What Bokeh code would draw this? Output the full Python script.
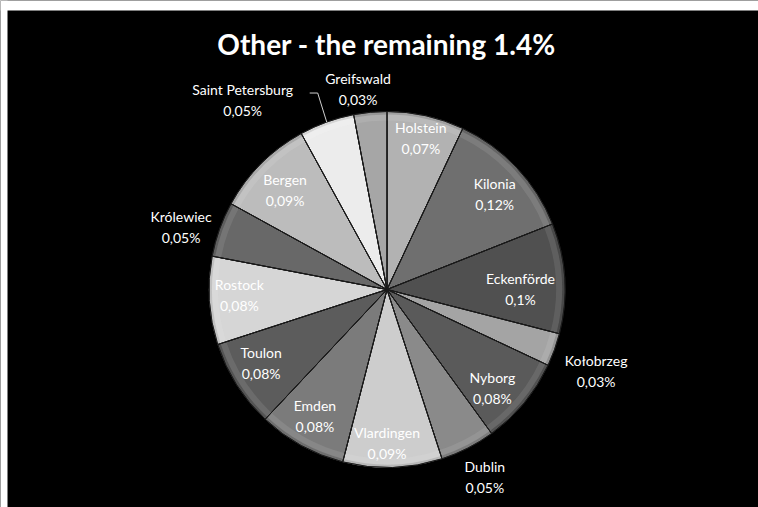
import numpy as np
from bokeh.plotting import figure
from bokeh.models import Range1d, ColumnDataSource, Label
from bokeh.core.properties import value
from bokeh.embed import file_html
from bokeh.resources import INLINE

# ---- data ----
title_text = "Other - the remaining 1.4%"
cities = ["Holstein", "Kilonia", "Eckenförde", "Kołobrzeg", "Nyborg", "Dublin",
          "Vlardingen", "Emden", "Toulon", "Rostock", "Królewiec", "Bergen",
          "Saint Petersburg", "Greifswald"]
shares = [0.07, 0.12, 0.10, 0.03, 0.08, 0.05, 0.09, 0.08, 0.08, 0.08, 0.05, 0.09, 0.05, 0.03]

# ---- style ----
colors = ["#b2b2b2", "#6f6f6f", "#505050", "#a4a4a4", "#5a5a5a", "#8a8a8a",
          "#cdcdcd", "#7b7b7b", "#5c5c5c", "#d6d6d6", "#686868", "#bcbcbc",
          "#ececec", "#a6a6a6"]
# label placement: radius factor (relative to pie radius) and angle tweak (deg)
label_rf = [0.87, 0.81, 0.75, 1.26, 0.81, 1.19, 0.86, 0.82, 0.82, 0.83, 1.21, 0.80, 1.0, 1.14]
label_da = [0, 1.5, 3.5, 1.4, 3.4, -0.5, 1.8, 0.8, 2.0, 1.3, -2.8, -0.7, 0, -2.8]

W, H = 758, 507
left, top = 7, 10
cx, cy = 386.5, H - 289.0
R = 178.0

p = figure(width=W, height=H, output_backend="svg", toolbar_location=None,
           x_range=Range1d(0, W), y_range=Range1d(0, H),
           min_border_left=0, min_border_top=0, min_border_right=0, min_border_bottom=0,
           background_fill_color="black", border_fill_color="black")
p.outline_line_color = None
p.axis.visible = False
p.grid.visible = False

# white page margin at left and top
p.quad(left=[0, 0], right=[left, W], bottom=[0, H - top], top=[H, H],
       fill_color="white", line_color=None)

vals = np.array(shares, dtype=float)
frac = vals / vals.sum()
cum = np.concatenate([[0], np.cumsum(frac)])
start = np.pi / 2 - 2 * np.pi * cum[:-1]
end = np.pi / 2 - 2 * np.pi * cum[1:]
mid = (start + end) / 2


def lighten(hexc, f):
    c = [int(hexc[i:i + 2], 16) for i in (1, 3, 5)]
    c = [int(round(v + (255 - v) * f)) for v in c]
    return "#%02x%02x%02x" % tuple(c)


def darken(hexc, f):
    c = [int(hexc[i:i + 2], 16) for i in (1, 3, 5)]
    c = [int(round(v * (1 - f))) for v in c]
    return "#%02x%02x%02x" % tuple(c)


src = ColumnDataSource(dict(start=start, end=end, color=colors,
                            light=[lighten(c, 0.3) for c in colors],
                            dark=[darken(c, 0.2) for c in colors]))

# base slices
p.wedge(x=cx, y=cy, radius=R, start_angle="start", end_angle="end", direction="clock",
        fill_color="color", line_color="#1a1a1a", line_width=1, source=src)
# soft bevel near the rim
p.annular_wedge(x=cx, y=cy, inner_radius=R - 3, outer_radius=R, start_angle="start", end_angle="end",
                direction="clock", fill_color="dark", fill_alpha=0.5, line_color=None, source=src)
p.annular_wedge(x=cx, y=cy, inner_radius=R - 9, outer_radius=R - 3, start_angle="start", end_angle="end",
                direction="clock", fill_color="light", fill_alpha=0.3, line_color=None, source=src)
p.wedge(x=cx, y=cy, radius=R, start_angle="start", end_angle="end", direction="clock",
        fill_color=None, line_color="#1a1a1a", line_width=1, source=src)

# labels
font = value("Lato")
lx, ly, names, pcts = [], [], [], []
for i, name in enumerate(cities):
    a = mid[i] - np.deg2rad(label_da[i])
    rr = R * label_rf[i]
    x = cx + rr * np.cos(a)
    y = cy + rr * np.sin(a)
    if name == "Saint Petersburg":
        # label with leader line
        px, py = cx + R * np.cos(mid[i]), cy + R * np.sin(mid[i])
        ex, ey = px - 9, py + 29
        p.line(x=[px, ex, ex - 8], y=[py, ey, ey], line_color="#d0d0d0", line_width=1)
        x, y = ex - 75, ey - 7
    lx.append(x)
    ly.append(y)
    names.append(name)
    pcts.append(("%g" % shares[i]).replace(".", ",") + "%")

lsrc = ColumnDataSource(dict(x=lx, y_top=[v + 10.5 for v in ly], y_bot=[v - 10.5 for v in ly],
                             name=names, pct=pcts))
p.text(x="x", y="y_top", text="name", source=lsrc, text_align="center", text_baseline="middle",
       text_font=font, text_font_size="14px", text_color="white")
p.text(x="x", y="y_bot", text="pct", source=lsrc, text_align="center", text_baseline="middle",
       text_font=font, text_font_size="14px", text_color="white")

p.add_layout(Label(x=386, y=H - 43, text=title_text, text_align="center", text_baseline="middle",
                   text_font="Lato", text_font_style="bold", text_font_size="28px",
                   text_color="white"))

open("out.html", "w").write(file_html(p, INLINE))
